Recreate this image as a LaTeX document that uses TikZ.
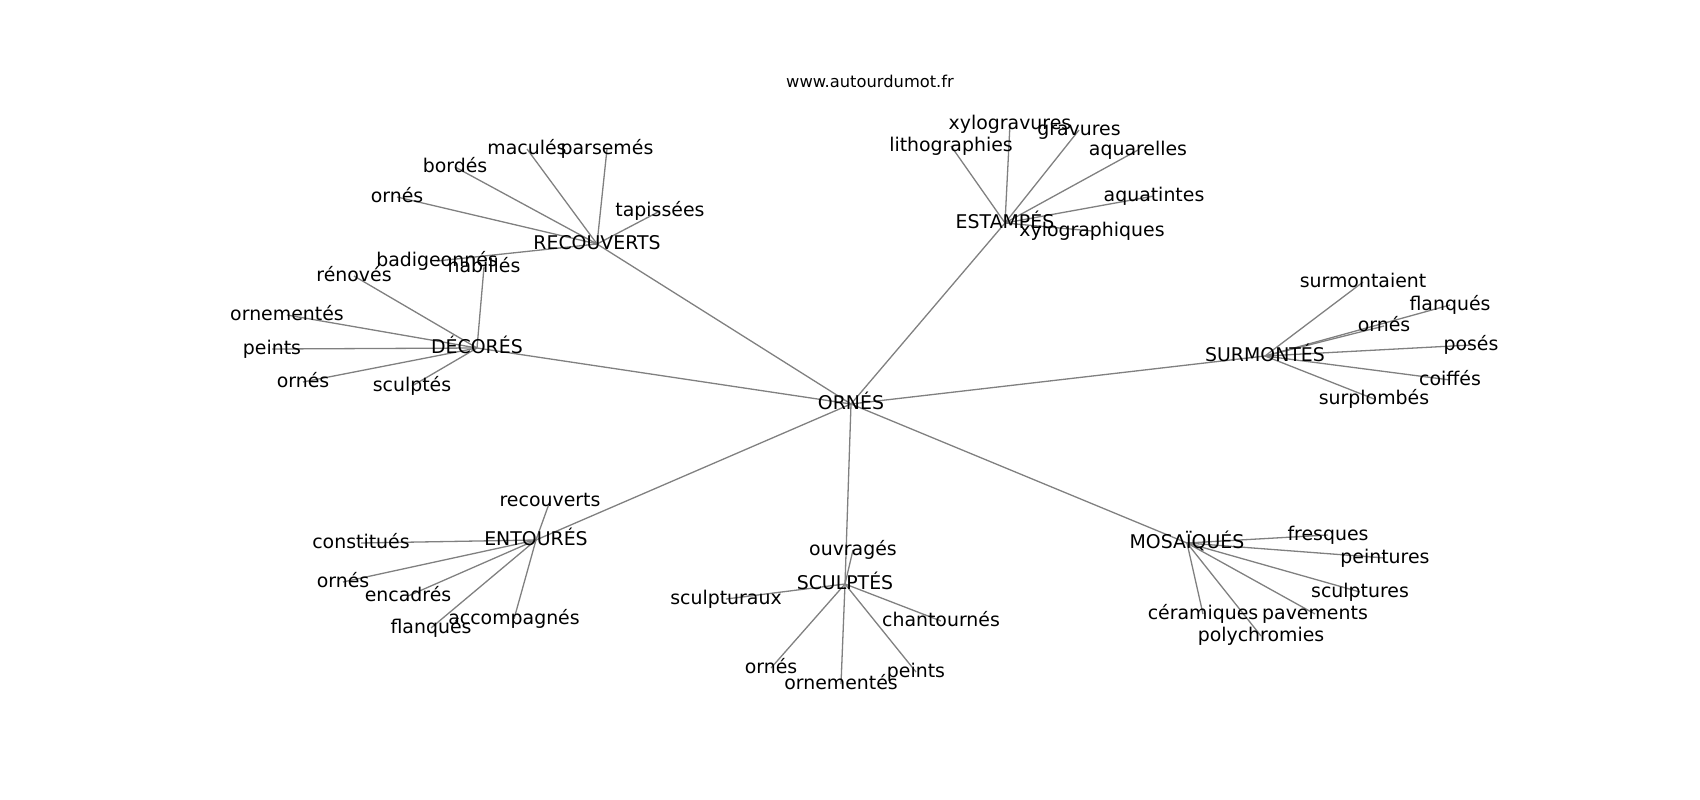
\documentclass[tikz,border=0pt]{standalone}
\usepackage{fontspec}
\setmainfont{DejaVu Sans}
\usetikzlibrary{backgrounds}
\tikzset{
  lbl/.style={inner sep=0pt, outer sep=0pt, anchor=center, text height=15pt, text depth=4pt, font=\fontsize{18.9}{22}\selectfont},
  ttl/.style={inner sep=0pt, anchor=base, font=\fontsize{16.3}{19}\selectfont},
  edge/.style={draw=black!50, line width=1.3pt}
}
\begin{document}
\begin{tikzpicture}[x=1pt,y=-1pt]
\useasboundingbox (0,0) rectangle (1700,800);
\node[ttl] (title) at (870,88) {www.autourdumot.fr};
% hubs
\node[lbl] (o) at (851,404) {ORNÉS};
\node[lbl] (rec) at (597,244) {RECOUVERTS};
\node[lbl] (dec) at (477,348) {DÉCORÉS};
\node[lbl] (est) at (1005,223) {ESTAMPÉS};
\node[lbl] (sur) at (1265,356) {SURMONTÉS};
\node[lbl] (ent) at (536,540) {ENTOURÉS};
\node[lbl] (scu) at (845,584) {SCULPTÉS};
\node[lbl] (mos) at (1187,543) {MOSAÏQUÉS};
% RECOUVERTS
\node[lbl] (rec1) at (527,149) {maculés};
\node[lbl] (rec2) at (607,149) {parsemés};
\node[lbl] (rec3) at (455,167) {bordés};
\node[lbl] (rec4) at (397,197) {ornés};
\node[lbl] (rec5) at (660,211) {tapissées};
\node[lbl] (rec6) at (437,261) {badigeonnés};
% DÉCORÉS
\node[lbl] (dec1) at (484,267) {habillés};
\node[lbl] (dec2) at (354,276) {rénovés};
\node[lbl] (dec3) at (287,315) {ornementés};
\node[lbl] (dec4) at (272,349) {peints};
\node[lbl] (dec5) at (303,382) {ornés};
\node[lbl] (dec6) at (412,386) {sculptés};
% ESTAMPÉS
\node[lbl] (est1) at (1010,124) {xylogravures};
\node[lbl] (est2) at (1079,130) {gravures};
\node[lbl] (est3) at (951,146) {lithographies};
\node[lbl] (est4) at (1138,150) {aquarelles};
\node[lbl] (est5) at (1154,196) {aquatintes};
\node[lbl] (est6) at (1092,231) {xylographiques};
% SURMONTÉS
\node[lbl] (sur1) at (1363,282) {surmontaient};
\node[lbl] (sur2) at (1450,305) {flanqués};
\node[lbl] (sur3) at (1384,326) {ornés};
\node[lbl] (sur4) at (1471,345) {posés};
\node[lbl] (sur5) at (1450,380) {coiffés};
\node[lbl] (sur6) at (1374,399) {surplombés};
% ENTOURÉS
\node[lbl] (ent1) at (550,501) {recouverts};
\node[lbl] (ent2) at (361,543) {constitués};
\node[lbl] (ent3) at (343,582) {ornés};
\node[lbl] (ent4) at (408,596) {encadrés};
\node[lbl] (ent5) at (431,628) {flanqués};
\node[lbl] (ent6) at (514,619) {accompagnés};
% SCULPTÉS
\node[lbl] (scu1) at (853,550) {ouvragés};
\node[lbl] (scu2) at (726,599) {sculpturaux};
\node[lbl] (scu3) at (941,621) {chantournés};
\node[lbl] (scu4) at (771,668) {ornés};
\node[lbl] (scu5) at (841,684) {ornementés};
\node[lbl] (scu6) at (916,672) {peints};
% MOSAÏQUÉS
\node[lbl] (mos1) at (1328,535) {fresques};
\node[lbl] (mos2) at (1385,558) {peintures};
\node[lbl] (mos3) at (1360,592) {sculptures};
\node[lbl] (mos4) at (1203,614) {céramiques};
\node[lbl] (mos5) at (1315,614) {pavements};
\node[lbl] (mos6) at (1261,636) {polychromies};
\begin{scope}[on background layer]
  \foreach \h in {rec,dec,est,sur,ent,scu,mos}
    \draw[edge] (o.center) -- (\h.center);
  \foreach \h in {rec,dec,est,sur,ent,scu,mos}
    \foreach \i in {1,...,6}
      \draw[edge] (\h.center) -- (\h\i.center);
\end{scope}
\end{tikzpicture}
\end{document}
